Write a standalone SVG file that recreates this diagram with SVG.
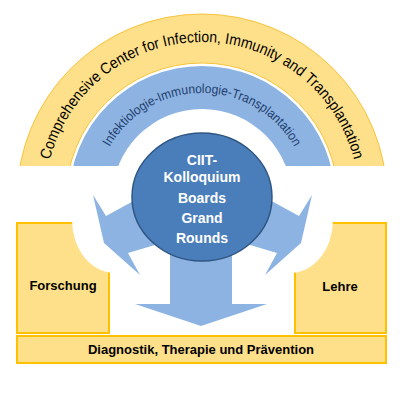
<svg xmlns="http://www.w3.org/2000/svg" width="400" height="400" viewBox="0 0 400 400">
<style>
.yband{fill:#ffe08a;stroke:#f8c33a;stroke-width:1}
.bband{fill:#8db3e2}
.box{fill:#ffe08a;stroke:#ffc000;stroke-width:2}
.arrow{fill:#8db3e2}
.cut{fill:#ffffff}
.lbl{font-family:"Liberation Sans",Arial,sans-serif;font-weight:bold;fill:#000;text-anchor:middle}
.ctr{font-family:"Liberation Sans",Arial,sans-serif;font-weight:bold;fill:#ffffff;font-size:14px;text-anchor:middle}
.arcO{font-family:"Liberation Sans",Arial,sans-serif;font-size:15.5px;fill:#000}
.arcI{font-family:"Liberation Sans",Arial,sans-serif;font-size:13px;fill:#1f3f6e}
</style>
<defs>
<path id="outerArc" d="M45,199 A157,157 0 0 1 359,199"/>
<path id="innerArc" d="M96,199 A106,106 0 0 1 308,199"/>
</defs>
<rect width="400" height="400" fill="#ffffff"/>
<g id="ccit">
<path class="yband" d="M17,199 A185,185 0 0 1 387,199 L338,199 A136,136 0 0 0 66,199 Z"/>
<text class="arcO"><textPath href="#outerArc" startOffset="50%" text-anchor="middle" textLength="414" lengthAdjust="spacingAndGlyphs">Comprehensive Center for Infection, Immunity and Transplantation</textPath></text>
</g>
<g id="iit">
<path class="bband" d="M69,199 A133,133 0 0 1 335,199 L292,199 A90,90 0 0 0 112,199 Z"/>
<text class="arcI"><textPath href="#innerArc" startOffset="50%" text-anchor="middle" textLength="224" lengthAdjust="spacingAndGlyphs">Infektiologie-Immunologie-Transplantation</textPath></text>
</g>
<rect class="cut" x="0" y="166" width="400" height="56"/>
<g id="forschung">
<rect class="box" x="17" y="223" width="92" height="110"/>
<ellipse class="cut" cx="115" cy="220" rx="43" ry="53"/>
<text class="lbl" x="63" y="290" font-size="13">Forschung</text>
</g>
<g id="lehre">
<rect class="box" x="295" y="223" width="91" height="110"/>
<ellipse class="cut" cx="290" cy="220" rx="43" ry="53"/>
<text class="lbl" x="340" y="291" font-size="13">Lehre</text>
</g>
<g id="praxis">
<rect class="box" x="17" y="336" width="369" height="27"/>
<text class="lbl" x="201" y="354" font-size="13">Diagnostik, Therapie und Prävention</text>
</g>
<g id="connectors">
<polygon class="arrow" points="150,192 106,216 93,195 104,243 140,275 128,253 165,242"/>
<polygon class="arrow" points="255,192 299,216 312,195 301,243 265,275 277,253 240,242"/>
<polygon class="arrow" points="170,250 170,304 135,304 201,326 267,304 232,304 232,250"/>
</g>
<g id="kolloquium">
<ellipse cx="202" cy="197" rx="70" ry="64" fill="#4a7ebb" stroke="#2f5683" stroke-width="1.5"/>
<text class="ctr" x="202" y="165">CIIT-</text>
<text class="ctr" x="202" y="182">Kolloquium</text>
<text class="ctr" x="202" y="203">Boards</text>
<text class="ctr" x="202" y="223">Grand</text>
<text class="ctr" x="202" y="243">Rounds</text>
</g>
</svg>
